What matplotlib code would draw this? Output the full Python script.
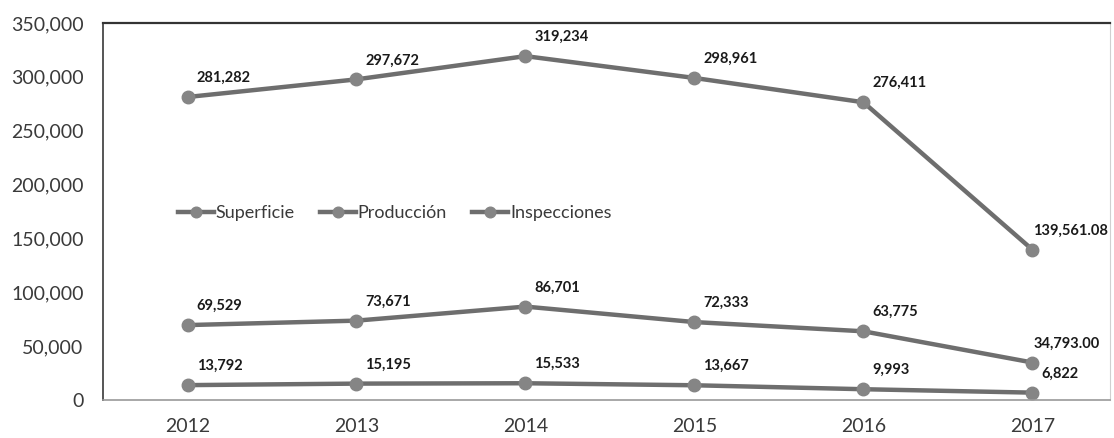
import matplotlib.pyplot as plt
from matplotlib.ticker import FuncFormatter

years = ['2012', '2013', '2014', '2015', '2016', '2017']
superficie = [281282, 297672, 319234, 298961, 276411, 139561.08]
produccion = [69529, 73671, 86701, 72333, 63775, 34793.00]
inspecciones = [13792, 15195, 15533, 13667, 9993, 6822]

superficie_lbl = ['281,282', '297,672', '319,234', '298,961', '276,411', '139,561.08']
produccion_lbl = ['69,529', '73,671', '86,701', '72,333', '63,775', '34,793.00']
inspecciones_lbl = ['13,792', '15,195', '15,533', '13,667', '9,993', '6,822']

plt.rcParams['font.family'] = ['Lato', 'DejaVu Sans']

fig = plt.figure(figsize=(11.14, 4.38), dpi=100)
ax = fig.add_axes([0.0925, 0.0868, 0.904, 0.8607])

x = list(range(len(years)))
line_color = '#6e6e6e'
marker_color = '#858585'

series = [
    ('Superficie', superficie, superficie_lbl),
    ('Producción', produccion, produccion_lbl),
    ('Inspecciones', inspecciones, inspecciones_lbl),
]

for name, vals, lbls in series:
    ax.plot(x, vals, color=line_color, linewidth=3.2, marker='o', markersize=9,
            markerfacecolor=marker_color, markeredgecolor=marker_color, label=name)
    for xi, v, t in zip(x, vals, lbls):
        # long labels in the last column sit closer so they fit inside the figure
        dx = 1 if (xi == x[-1] and len(t) > 6) else 9
        ax.annotate(t, (xi, v), xytext=(dx, 19), textcoords='offset pixels',
                    ha='left', va='center', fontsize=10.5, fontweight='bold',
                    color='#1a1a1a')

ax.set_xlim(-0.5, 5.46)
ax.set_ylim(0, 350000)
ax.set_yticks(range(0, 350001, 50000))
ax.yaxis.set_major_formatter(FuncFormatter(lambda v, p: f'{int(v):,}'))
ax.set_xticks(x)
ax.set_xticklabels(years)
ax.tick_params(axis='both', length=0, labelsize=14, colors='#3a3a3a')
ax.tick_params(axis='x', pad=13)
ax.tick_params(axis='y', pad=14)

ax.spines['top'].set_color('#333333')
ax.spines['top'].set_linewidth(1.6)
ax.spines['left'].set_color('#555555')
ax.spines['left'].set_linewidth(1.4)
ax.spines['bottom'].set_color('#999999')
ax.spines['bottom'].set_linewidth(1.2)
ax.spines['right'].set_color('#d0d0d0')

leg = ax.legend(loc='center left', bbox_to_anchor=(0.074, 0.496), ncol=3,
                frameon=False, fontsize=13, borderaxespad=0, borderpad=0,
                handlelength=2.0, handletextpad=0.1, columnspacing=1.4,
                markerscale=0.85)
for t in leg.get_texts():
    t.set_color('#3a3a3a')

fig.savefig('out.png', dpi=100)
